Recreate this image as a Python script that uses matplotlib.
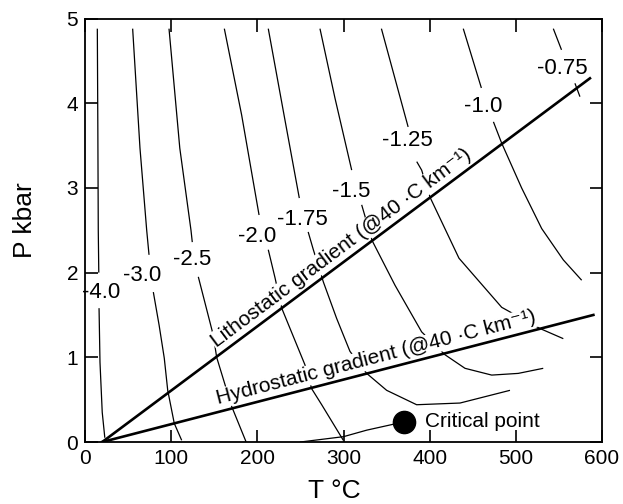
import numpy as np
import matplotlib
matplotlib.use("Agg")
import matplotlib.pyplot as plt

plt.rcParams['font.family'] = ['Liberation Sans', 'DejaVu Sans']

nan = np.nan
# ---- isopleths (T degC, P kbar); NaN = gap for label ----
iso_labels = ["-4.0", "-3.0", "-2.5", "-2.0", "-1.75", "-1.5", "-1.25", "-1.0", "-0.75"]
iso_T = [
    [14.3, 14.9, 15.4, 16.0, nan, 16.3, 17.4, 20.0, 23.0],
    [55.3, 63.8, 71.6, 74.3, nan, 79.3, 86.0, 92.0, 96.0, 103.6, 112.2],
    [97.5, 110.0, 123.0, 124.5, nan, 131.5, 148.9, 152.8, 170.2, 187.0],
    [161.7, 181.8, 202.0, nan, 212.7, 220.5, 228.3, 255.3, 263.0, 274.7, 299.8],
    [212.7, 231.0, 248.7, nan, 259.0, 265.0, 276.6, 292.0, 307.5, 326.9, 350.1, 384.9, 435.2, 493.2],
    [272.7, 290.1, 309.5, nan, 321.1, 333.1, 359.8, 390.7, 417.8, 441.0, 472.0, 502.8, 531.8],
    [344.0, 375.0, nan, 385.0, 390.7, 400.4, 434.0, 483.6, 528.0, 555.1],
    [439.0, 460.0, nan, 474.0, 483.5, 506.7, 530.0, 555.1, 576.4],
    [543.5, 553.0, nan, 568.6, 574.4],
]
iso_P = [
    [4.88, 3.70, 2.50, 2.00, nan, 1.58, 0.94, 0.35, 0.05],
    [4.88, 3.47, 2.50, 2.21, nan, 1.77, 1.38, 0.99, 0.61, 0.22, 0.02],
    [4.88, 3.47, 2.50, 2.36, nan, 1.95, 1.26, 1.00, 0.42, 0.0],
    [4.88, 3.86, 2.68, nan, 2.27, 1.94, 1.58, 0.91, 0.63, 0.44, 0.02],
    [4.88, 3.86, 2.88, nan, 2.48, 2.27, 1.89, 1.46, 1.07, 0.81, 0.61, 0.44, 0.46, 0.61],
    [4.88, 4.06, 3.21, nan, 2.80, 2.38, 1.85, 1.30, 1.03, 0.87, 0.79, 0.81, 0.87],
    [4.88, 3.72, nan, 3.31, 3.21, 2.89, 2.17, 1.59, 1.34, 1.22],
    [4.88, 4.18, nan, 3.78, 3.53, 3.00, 2.52, 2.15, 1.91],
    [4.88, 4.63, nan, 4.235, 4.077],
]
label_T = [18.6, 66.7, 124.8, 200.2, 252.4, 309.5, 374.2, 461.9, 554.1]
label_P = [1.77, 1.97, 2.15, 2.43, 2.63, 2.955, 3.565, 3.96, 4.41]

# ---- gradients ----
litho_T = [20, 586]
litho_P = [0.0, 4.294]
hydro_T = [20, 590]
hydro_P = [0.0, 1.50]

# ---- boiling curve & critical point ----
boil_T = [250, 300, 327, 358, 370]
boil_P = [0.0, 0.063, 0.14, 0.21, 0.24]
crit_T, crit_P = 370, 0.24

fig = plt.figure(figsize=(6.23, 5.04), dpi=100)
ax = fig.add_axes([85/623, 62/504, 517/623, 423.5/504])
ax.set_xlim(0, 600)
ax.set_ylim(0, 5)

for Ts, Ps in zip(iso_T, iso_P):
    ax.plot(Ts, Ps, color='black', lw=0.9, zorder=2, solid_capstyle='butt')
for lab, t, p in zip(iso_labels, label_T, label_P):
    ax.text(t, p, lab, fontsize=16, ha='center', va='center', zorder=3)

ax.plot(litho_T, litho_P, color='black', lw=1.9, zorder=5)
ax.plot(hydro_T, hydro_P, color='black', lw=1.9, zorder=5)

ax.plot(boil_T, boil_P, color='black', lw=0.9, zorder=2)
ax.plot([crit_T], [crit_P], 'o', color='black', ms=16, zorder=6)
ax.text(crit_T + 25, crit_P, 'Critical point', fontsize=15, ha='left', va='center', zorder=6)

def grad_label(Ts, Ps, t0, text):
    p0 = Ps[0] + (Ps[1] - Ps[0]) * (t0 - Ts[0]) / (Ts[1] - Ts[0])
    a = ax.transData.transform((Ts[0], Ps[0]))
    b = ax.transData.transform((Ts[1], Ps[1]))
    ang = np.arctan2(b[1] - a[1], b[0] - a[0])
    off = 5.2
    ax.annotate(text, xy=(t0, p0), xytext=(-np.sin(ang) * off, np.cos(ang) * off),
                textcoords='offset points', rotation=np.degrees(ang),
                rotation_mode='anchor', ha='left', va='baseline', fontsize=15,
                zorder=4, bbox=dict(fc='white', ec='none', pad=0.5))

grad_label(litho_T, litho_P, 157.5, 'Lithostatic gradient (@40 ·C km⁻¹)')
grad_label(hydro_T, hydro_P, 156.5, 'Hydrostatic gradient (@40 ·C km⁻¹)')

ax.set_xticks([0, 100, 200, 300, 400, 500, 600])
ax.set_yticks([0, 1, 2, 3, 4, 5])
ax.tick_params(direction='in', length=9, width=1.2, top=True, right=True,
               labelsize=15, pad=5)
for s in ax.spines.values():
    s.set_linewidth(1.3)
    s.set_zorder(7)

fig.text(334/623, 1/504, 'T °C', fontsize=19, ha='center', va='bottom')
fig.text(32/623, 1 - 220/504, 'P kbar', fontsize=19, rotation=90,
         rotation_mode='anchor', ha='center', va='baseline')

fig.savefig('out.png', dpi=100)
